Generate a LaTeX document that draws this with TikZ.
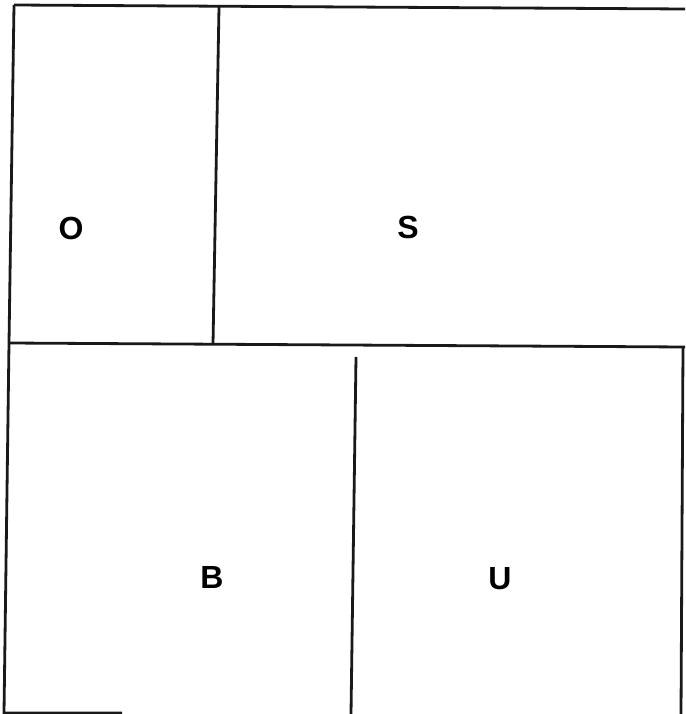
\documentclass[tikz,border=0pt]{standalone}
\usepackage{fontspec}
\setmainfont{Liberation Sans}
\usepackage{tikz}

\begin{document}
\begin{tikzpicture}[
  x=1pt,y=-1pt,
  wall/.style={line width=2.8pt,draw=black!90},
  roomlabel/.style={font=\bfseries\fontsize{32}{34}\selectfont,inner sep=0pt}
]
\useasboundingbox (0,0) rectangle (685,714);
% outer lines
\draw[wall] (14,5) -- (685,9);
\draw[wall] (14,5) -- (9,343) -- (4,713) -- (122,713);
\draw[wall] (9,343) -- (685,347);
\draw[wall] (683,347) -- (681,714);
% inner walls
\draw[wall] (219,7) -- (213,344);
\draw[wall] (356,357) -- (351,714);
% labels
\node[roomlabel] (o) at (71,228) {O};
\node[roomlabel] (s) at (408,227) {S};
\node[roomlabel] (b) at (212,577) {B};
\node[roomlabel] (u) at (500,579) {U};
\end{tikzpicture}
\end{document}
